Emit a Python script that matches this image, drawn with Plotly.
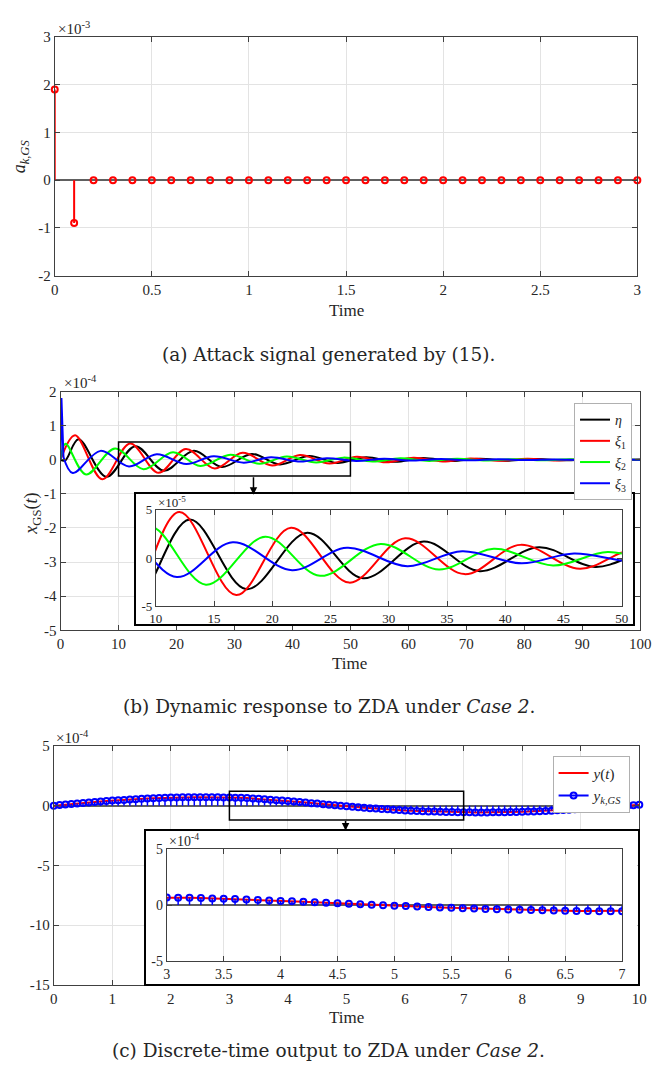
import plotly.graph_objects as go

W, H = 662, 1077

# ---------------- data (a): attack signal, units of 1e-3 ----------------
T_A = [0.0, 0.1, 0.2, 0.3, 0.4, 0.5, 0.6, 0.7, 0.8, 0.9, 1.0, 1.1, 1.2, 1.3, 1.4, 1.5,
       1.6, 1.7, 1.8, 1.9, 2.0, 2.1, 2.2, 2.3, 2.4, 2.5, 2.6, 2.7, 2.8, 2.9, 3.0]
ATTACK_E3 = [1.9, -0.9, 0, 0, 0, 0, 0, 0, 0, 0, 0, 0, 0, 0, 0, 0,
             0, 0, 0, 0, 0, 0, 0, 0, 0, 0, 0, 0, 0, 0, 0]

# ---------------- data (b): states, extrema, units of 1e-5 ----------------
ETA_T = [0, 0.8, 3.1, 7.9, 12.9, 17.8, 23.0, 27.8, 33.0, 37.8, 42.9, 47.7, 52.7, 57.6,
         62.5, 67.4, 72.3, 77.2, 82.1, 87.0, 91.9, 96.8, 100]
ETA_V = [0, -0.2, 6.0, -5.0, 3.98, -3.23, 2.62, -2.10, 1.70, -1.36, 1.12, -0.92, 0.74, -0.60,
         0.49, -0.40, 0.32, -0.26, 0.21, -0.17, 0.14, -0.11, 0.0]
XI1_T = [0, 2.5, 7.2, 12.0, 16.9, 21.6, 26.6, 31.4, 36.5, 41.3, 46.4, 51.1, 56.1, 60.9,
         65.9, 70.7, 75.7, 80.5, 85.5, 90.3, 95.3, 100]
XI1_V = [0, 7.2, -5.7, 4.76, -3.84, 3.13, -2.55, 2.04, -1.67, 1.36, -1.12, 0.90, -0.73, 0.59,
         -0.48, 0.39, -0.32, 0.26, -0.21, 0.17, -0.14, 0.05]
XI2_T = [0, 0.85, 4.4, 9.4, 14.3, 19.4, 24.1, 29.3, 34.3, 39.0, 44.1, 48.8, 53.8, 58.6,
         63.6, 68.4, 73.4, 78.2, 83.2, 88.0, 93.0, 97.8, 100]
XI2_V = [0, 4.7, -4.3, 3.3, -2.76, 2.21, -1.84, 1.46, -1.19, 0.95, -0.78, 0.62, -0.51, 0.41,
         -0.34, 0.27, -0.22, 0.18, -0.15, 0.12, -0.10, 0.08, 0.0]
XI3_T = [0, 0.15, 0.5, 2.1, 6.9, 11.8, 16.6, 21.7, 26.4, 31.6, 36.3, 41.4, 45.9, 51.0,
         55.8, 60.8, 65.6, 70.6, 75.4, 80.4, 85.2, 90.2, 95.0, 100]
XI3_V = [0, 18.1, 0.8, -3.9, 2.6, -1.97, 1.63, -1.26, 1.05, -0.85, 0.71, -0.55, 0.47, -0.38,
         0.31, -0.25, 0.21, -0.17, 0.14, -0.11, 0.09, -0.07, 0.06, 0.0]

# ---------------- data (c): output, units of 1e-4 ----------------
T_C = [0.0, 0.1, 0.2, 0.3, 0.4, 0.5, 0.6, 0.7, 0.8, 0.9,
       1.0, 1.1, 1.2, 1.3, 1.4, 1.5, 1.6, 1.7, 1.8, 1.9,
       2.0, 2.1, 2.2, 2.3, 2.4, 2.5, 2.6, 2.7, 2.8, 2.9,
       3.0, 3.1, 3.2, 3.3, 3.4, 3.5, 3.6, 3.7, 3.8, 3.9,
       4.0, 4.1, 4.2, 4.3, 4.4, 4.5, 4.6, 4.7, 4.8, 4.9,
       5.0, 5.1, 5.2, 5.3, 5.4, 5.5, 5.6, 5.7, 5.8, 5.9,
       6.0, 6.1, 6.2, 6.3, 6.4, 6.5, 6.6, 6.7, 6.8, 6.9,
       7.0, 7.1, 7.2, 7.3, 7.4, 7.5, 7.6, 7.7, 7.8, 7.9,
       8.0, 8.1, 8.2, 8.3, 8.4, 8.5, 8.6, 8.7, 8.8, 8.9,
       9.0, 9.1, 9.2, 9.3, 9.4, 9.5, 9.6, 9.7, 9.8, 9.9, 10.0]
Y_C = [0.00, 0.05, 0.09, 0.14, 0.18, 0.22, 0.26, 0.30, 0.34, 0.38,
       0.42, 0.45, 0.48, 0.51, 0.54, 0.57, 0.60, 0.62, 0.64, 0.66,
       0.68, 0.69, 0.70, 0.71, 0.71, 0.71, 0.71, 0.70, 0.70, 0.69,
       0.68, 0.67, 0.65, 0.63, 0.60, 0.57, 0.54, 0.50, 0.46, 0.42,
       0.38, 0.34, 0.30, 0.26, 0.21, 0.17, 0.12, 0.08, 0.03, -0.01,
       -0.05, -0.09, -0.13, -0.17, -0.21, -0.24, -0.28, -0.31, -0.34, -0.37,
       -0.40, -0.42, -0.44, -0.46, -0.48, -0.50, -0.52, -0.53, -0.54, -0.55,
       -0.56, -0.56, -0.57, -0.57, -0.57, -0.56, -0.56, -0.55, -0.54, -0.53,
       -0.51, -0.50, -0.48, -0.46, -0.44, -0.42, -0.39, -0.37, -0.34, -0.31,
       -0.28, -0.25, -0.22, -0.19, -0.15, -0.12, -0.08, -0.05, -0.01, 0.03, 0.07]

# tick labels
TICKS_A_X = [0, 0.5, 1, 1.5, 2, 2.5, 3]
TICKS_A_Y = [-2, -1, 0, 1, 2, 3]
TICKS_B_X = [0, 10, 20, 30, 40, 50, 60, 70, 80, 90, 100]
TICKS_B_Y = [-50, -40, -30, -20, -10, 0, 10, 20]
LABELS_B_Y = ["-5", "-4", "-3", "-2", "-1", "0", "1", "2"]
TICKS_BI_X = [10, 15, 20, 25, 30, 35, 40, 45, 50]
TICKS_BI_Y = [-5, 0, 5]
TICKS_C_X = [0, 1, 2, 3, 4, 5, 6, 7, 8, 9, 10]
TICKS_C_Y = [-15, -10, -5, 0, 5]
TICKS_CI_X = [3, 3.5, 4, 4.5, 5, 5.5, 6, 6.5, 7]
TICKS_CI_Y = [-5, 0, 5]

# ---------------- style ----------------
TICKFONT = "Liberation Serif, Times New Roman, Times, serif"
CAPFONT = "DejaVu Serif, serif"
AXC = "#404040"
GRID = "#e3e3e3"
TXT = "#262626"


def xd(a, b):
    return [a / W, b / W]


def yd(top, bottom):
    return [1 - bottom / H, 1 - top / H]


def px(x):
    return x / W


def py(y):
    return 1 - y / H


def lab(v):
    return "%g" % v


def stem_err(vals):
    plus = [(-v if v < 0 else 0) for v in vals]
    minus = [(v if v > 0 else 0) for v in vals]
    return plus, minus


fig = go.Figure()

# (a) stem
ap, am = stem_err(ATTACK_E3)
fig.add_trace(go.Scatter(
    x=T_A, y=ATTACK_E3, mode="markers", xaxis="x", yaxis="y", showlegend=False, cliponaxis=False,
    marker=dict(symbol="circle-open", size=6, color="#ff0000", line=dict(width=2, color="#ff0000")),
    error_y=dict(type="data", symmetric=False, array=ap, arrayminus=am, width=0,
                 thickness=2, color="#ff0000")))

# (b) main + inset
series_b = [
    (ETA_T, ETA_V, "#000000", "<i>η</i>"),
    (XI1_T, XI1_V, "#ff0000", "<i>ξ</i><sub>1</sub>"),
    (XI2_T, XI2_V, "#00ff00", "<i>ξ</i><sub>2</sub>"),
    (XI3_T, XI3_V, "#0000ff", "<i>ξ</i><sub>3</sub>"),
]
for (t, v, c, name) in series_b:
    if name.endswith("3</sub>"):
        for ax_x, ax_y in (("x2", "y2"), ("x4", "y4")):
            fig.add_trace(go.Scatter(x=t[:3], y=v[:3], mode="lines", xaxis=ax_x, yaxis=ax_y,
                                     line=dict(color=c, width=2), showlegend=False))
        tt, vv = t[2:], v[2:]
    else:
        tt, vv = t, v
    fig.add_trace(go.Scatter(x=tt, y=vv, mode="lines", xaxis="x2", yaxis="y2", name=name,
                             line=dict(color=c, width=2, shape="spline", smoothing=1.0),
                             legend="legend"))
    fig.add_trace(go.Scatter(x=tt, y=vv, mode="lines", xaxis="x4", yaxis="y4", showlegend=False,
                             line=dict(color=c, width=2, shape="spline", smoothing=1.0)))

# frames (empty subplots giving a white background and black border)
fig.add_trace(go.Scatter(x=[], y=[], xaxis="x3", yaxis="y3", showlegend=False))
fig.add_trace(go.Scatter(x=[], y=[], xaxis="x6", yaxis="y6", showlegend=False))

# (c) main + inset
cp, cm = stem_err(Y_C)
for ax_x, ax_y, first in (("x5", "y5", True), ("x7", "y7", False)):
    fig.add_trace(go.Scatter(x=T_C, y=Y_C, mode="lines", xaxis=ax_x, yaxis=ax_y,
                             name="<i>y</i>(<i>t</i>)", legend="legend2", showlegend=first,
                             line=dict(color="#ff0000", width=2)))
    fig.add_trace(go.Scatter(
        x=T_C, y=Y_C, mode="markers", xaxis=ax_x, yaxis=ax_y, showlegend=False,
        cliponaxis=not first,
        marker=dict(symbol="circle-open", size=6, color="#0000ff", line=dict(width=2, color="#0000ff")),
        error_y=dict(type="data", symmetric=False, array=cp, arrayminus=cm, width=0,
                     thickness=1.5, color="#0000ff")))
fig.add_trace(go.Scatter(x=[None], y=[None], mode="lines+markers", xaxis="x5", yaxis="y5",
                         name="<i>y</i><sub><i>k,GS</i></sub>", legend="legend2",
                         line=dict(color="#0000ff", width=2),
                         marker=dict(symbol="circle-open", size=6, color="#0000ff",
                                     line=dict(width=2, color="#0000ff"))))


def ax_style(dom, anchor, rng, tickvals, ticktext=None, size=15, zeroline=False):
    if ticktext is None:
        ticktext = [lab(v) for v in tickvals]
    return dict(domain=dom, anchor=anchor, range=rng, showline=True, mirror="ticks",
                linecolor=AXC, linewidth=1, ticks="inside", ticklen=5, tickcolor=AXC,
                showgrid=True, gridcolor=GRID, gridwidth=1,
                zeroline=zeroline, zerolinecolor="#606060", zerolinewidth=1.5,
                tickmode="array", tickvals=tickvals, ticktext=ticktext,
                tickfont=dict(family=TICKFONT, size=size, color=TXT), fixedrange=True)


def frame_style(dom, anchor):
    return dict(domain=dom, anchor=anchor, range=[0, 1], showline=True, mirror=True,
                linecolor="#000000", linewidth=2, ticks="", showgrid=False, zeroline=False,
                showticklabels=False, fixedrange=True)


layout = dict(
    width=W, height=H, margin=dict(l=0, r=0, t=0, b=0),
    paper_bgcolor="white", plot_bgcolor="white",
    xaxis=ax_style(xd(50, 648), "y", [0, 3], TICKS_A_X),
    yaxis=ax_style(yd(29.3, 271.7), "x", [-2, 3], TICKS_A_Y, zeroline=True),
    xaxis2=ax_style(xd(56, 651), "y2", [0, 100], TICKS_B_X),
    yaxis2=ax_style(yd(389.3, 631.7), "x2", [-50, 20], TICKS_B_Y, LABELS_B_Y),
    xaxis3=frame_style(xd(133.3, 643.7), "y3"),
    yaxis3=frame_style(yd(493.7, 625.7), "x3"),
    xaxis4=ax_style(xd(153.8, 632), "y4", [10, 50], TICKS_BI_X, size=13),
    yaxis4=ax_style(yd(509.3, 607.3), "x4", [-5, 5], TICKS_BI_Y, size=13),
    xaxis5=ax_style(xd(49, 650), "y5", [0, 10], TICKS_C_X),
    yaxis5=ax_style(yd(749, 991.7), "x5", [-15, 5], TICKS_C_Y, zeroline=True),
    xaxis6=frame_style(xd(143.3, 648.3), "y6"),
    yaxis6=frame_style(yd(835, 991), "x6"),
    xaxis7=ax_style(xd(165, 632.3), "y7", [3, 7], TICKS_CI_X, size=14),
    yaxis7=ax_style(yd(854, 967.3), "x7", [-5, 5], TICKS_CI_Y, size=14, zeroline=True),
    legend=dict(x=px(583), y=py(401), xanchor="left", yanchor="top",
                bgcolor="white", bordercolor="#b0b0b0", borderwidth=1,
                font=dict(family=TICKFONT, size=14, color=TXT), tracegroupgap=0,
                itemwidth=30),
    legend2=dict(x=px(561), y=py(759), xanchor="left", yanchor="top",
                 bgcolor="white", bordercolor="#b0b0b0", borderwidth=1,
                 font=dict(family=TICKFONT, size=15, color=TXT), tracegroupgap=0,
                 itemwidth=30),
)
fig.update_layout(**layout)

# zoom rectangles
fig.add_shape(type="rect", xref="x2", yref="y2", x0=10, x1=50, y0=-4.8, y1=5.2,
              line=dict(color="black", width=1.5), layer="above")
fig.add_shape(type="rect", xref="x5", yref="y5", x0=3, x1=7, y0=-1.2, y1=1.2,
              line=dict(color="black", width=1.5), layer="above")

ann = []
ann.append(dict(x=px(254), y=py(494), xref="paper", yref="paper", text="", showarrow=True,
                ax=0, ay=-19, arrowhead=2, arrowsize=1, arrowwidth=1.5, arrowcolor="black"))
ann.append(dict(x=px(348.5), y=py(835), xref="paper", yref="paper", text="", showarrow=True,
                ax=0, ay=-11, arrowhead=2, arrowsize=1, arrowwidth=1.5, arrowcolor="black"))


def text(x, y, s, size, family=TICKFONT, xanchor="center", yanchor="middle", angle=0):
    ann.append(dict(x=px(x), y=py(y), xref="paper", yref="paper", text=s, showarrow=False,
                    xanchor=xanchor, yanchor=yanchor, textangle=angle,
                    font=dict(family=family, size=size, color=TXT)))


# exponent labels
text(51, 20, "×10<sup>-3</sup>", 15, xanchor="left")
text(57, 380, "×10<sup>-4</sup>", 15, xanchor="left")
text(154, 501, "×10<sup>-5</sup>", 13, xanchor="left")
text(49.5, 740, "×10<sup>-4</sup>", 15, xanchor="left")
text(165.5, 845, "×10<sup>-4</sup>", 14, xanchor="left")

# axis titles
text(349, 307, "Time", 17)
text(353, 665, "Time", 17)
text(349, 1025, "Time", 17)
text(15, 151, "<i>a</i><sub><i>k,GS</i></sub>", 18, angle=-90)
text(27, 513, "<i>x</i><sub>GS</sub>(<i>t</i>)", 18, angle=-90)

# captions
text(331, 352, "(a) Attack signal generated by (15).", 18.5, family=CAPFONT)
text(332, 709, "(b) Dynamic response to ZDA under <i>Case 2</i>.", 18.5, family=CAPFONT)
text(331, 1058, "(c) Discrete-time output to ZDA under <i>Case 2</i>.", 18.5, family=CAPFONT)

fig.update_layout(annotations=ann)
fig.write_html(
    "out.html",
    config={"displayModeBar": False},
    post_script=(
        "document.documentElement.style.margin='0';"
        "document.documentElement.style.padding='0';"
        "document.documentElement.style.overflow='hidden';"
        "document.body.style.margin='0';"
        "document.body.style.padding='0';"
        "document.body.style.overflow='hidden';"
        "var d=document.getElementById('{plot_id}');"
        "d.style.position='fixed';d.style.left='0px';d.style.top='0px';"
    ),
)
